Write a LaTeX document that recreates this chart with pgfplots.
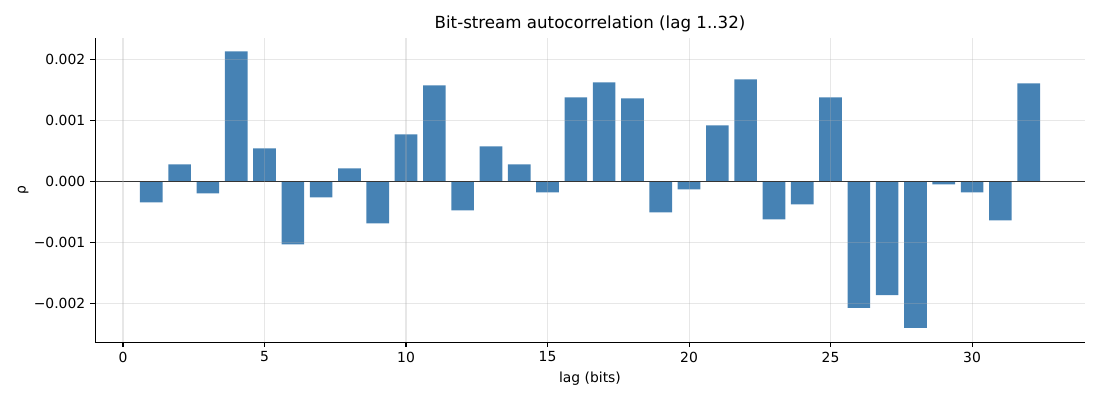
\documentclass[border=0pt]{standalone}
\usepackage{pgfplots}
\pgfplotsset{compat=1.18}
\usepackage{fontspec}
\setmainfont{DejaVu Sans}
\definecolor{steel}{HTML}{4682B4}
\definecolor{gridc}{HTML}{B0B0B0}
\pgfplotstableread{
lag rho
1 -0.000342
2 0.000282
3 -0.000195
4 0.00214
5 0.000545
6 -0.001033
7 -0.00026
8 0.000216
9 -0.000688
10 0.000775
11 0.00158
12 -0.000474
13 0.000578
14 0.000282
15 -0.000178
16 0.001384
17 0.00163
18 0.001367
19 -0.000507
20 -0.000129
21 0.000923
22 0.00168
23 -0.000622
24 -0.000375
25 0.001384
26 -0.00208
27 -0.00187
28 -0.002408
29 -0.0000466
30 -0.000178
31 -0.000638
32 0.001614
}\datatable
\begin{document}
\begin{tikzpicture}
\begin{axis}[
  scale only axis,
  width=712.8pt, height=218.88pt,
  xmin=-0.99, xmax=33.99,
  ymin=-0.00264, ymax=0.00236,
  axis x line*=bottom, axis y line*=left,
  axis line style={-, line width=0.7pt, black},
  tick align=outside,
  major tick length=3.5pt,
  every tick/.style={black, line width=0.8pt},
  xtick={0,5,10,15,20,25,30},
  ytick={-0.002,-0.001,0,0.001,0.002},
  yticklabels={−0.002,−0.001,0.000,0.001,0.002},
  scaled y ticks=false,
  /pgf/number format/assume math mode=true,
  tick label style={font=\fontsize{10pt}{12pt}\selectfont},
  grid=major,
  grid style={gridc, opacity=0.3, line width=0.8pt},
  axis on top,
  title={Bit-stream autocorrelation (lag 1..32)},
  title style={font=\fontsize{12pt}{14pt}\selectfont, yshift=-5.5pt},
  xlabel={lag (bits)},
  ylabel={ρ},
  ylabel style={xshift=0pt, yshift=-3pt},
  label style={font=\fontsize{10pt}{12pt}\selectfont},
  ybar, bar width=0.8, bar shift=0pt,
  clip=false,
]
\addplot[fill=steel, draw=none] table[x=lag, y=rho] {\datatable};
\draw[black, line width=0.8pt] (axis cs:-0.99,0) -- (axis cs:33.99,0);
\coordinate (bl) at (rel axis cs:0,0);
\coordinate (tr) at (rel axis cs:1,1);
\end{axis}
\path ([shift={(-68.4pt,-41.76pt)}]bl) rectangle ([shift={(10.8pt,27.36pt)}]tr);
\end{tikzpicture}
\end{document}
